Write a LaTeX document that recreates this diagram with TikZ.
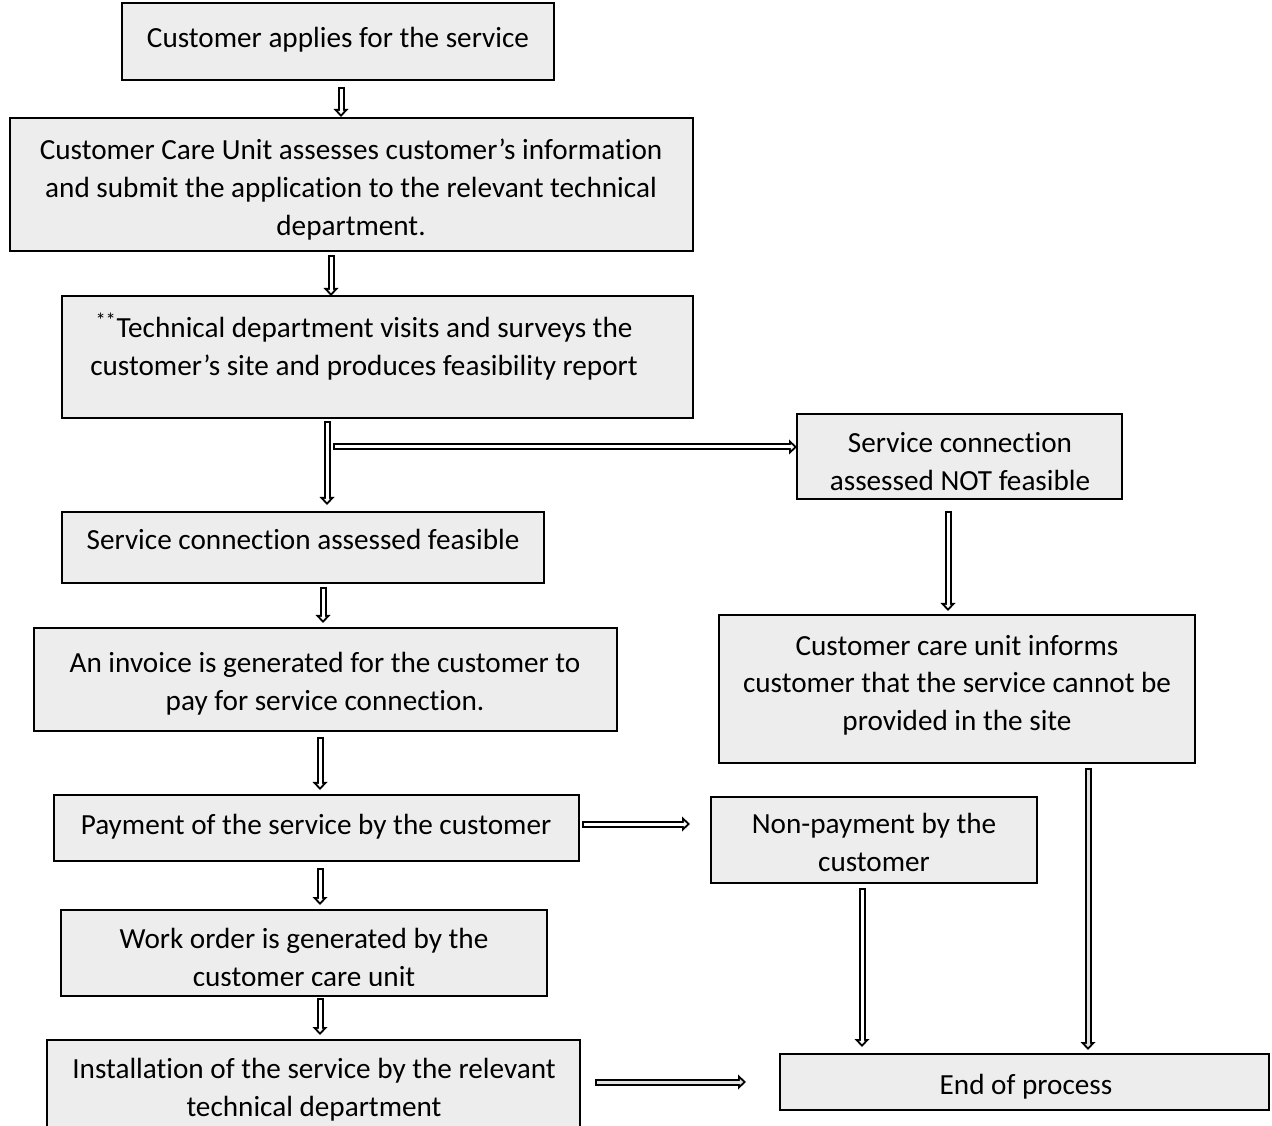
\documentclass[tikz,border=0pt]{standalone}
\usepackage{fontspec}
\setmainfont{Carlito}[Ligatures={NoCommon}]
\usetikzlibrary{calc,arrows.meta}
\definecolor{boxgray}{RGB}{237,237,237}
\definecolor{arrgray}{RGB}{225,225,225}
\tikzset{
  box/.style={draw=black, line width=1.5pt, fill=boxgray, inner sep=0pt, outer sep=0pt, anchor=north west},
  txt/.style={inner sep=0pt, align=center, anchor=base, font=\fontsize{21.9pt}{28.5pt}\selectfont},
  arr/.style={draw=black, line width=5.25pt, -{Triangle[width=11.25pt,length=6pt,line width=0pt]},
    postaction={draw=#1, line width=2.25pt, shorten <=1.5pt, shorten >=2.2pt, -{Triangle[width=4.6pt,length=2.4pt,line width=0pt]}}},
  arr/.default=white
}
\newcommand\bx[5]{\node[box, minimum width={(#4-#2)*0.75pt}, minimum height={(#5-#3)*0.75pt}] (#1) at (#2,#3) {};}
\begin{document}
\begin{tikzpicture}[x=0.75pt,y=-0.75pt]
\path[use as bounding box] (0,0) rectangle (1272,1126);
\clip (0,0) rectangle (1272,1126);
\fill[white] (0,0) rectangle (1272,1126);
% boxes
\bx{b1}{122}{3}{554}{80}
\bx{b2}{10}{118}{693}{251}
\bx{b3}{62}{296}{693}{418}
\bx{b4}{797}{414}{1122}{499}
\bx{b5}{62}{512}{544}{583}
\bx{b6}{34}{628}{617}{731}
\bx{b7}{719}{615}{1195}{763}
\bx{b8}{54}{795}{579}{861}
\bx{b9}{711}{797}{1037}{883}
\bx{b10}{61}{910}{547}{996}
\bx{b11}{47}{1040}{580}{1135}
\bx{b12}{780}{1054}{1269}{1110}
% texts (anchor = baseline of the last line)
\node[txt] (t1) at (338,48) {Customer applies for the service};
\node[txt] (t2) at (351,236) {Customer Care Unit assesses customer’s information\\and submit the application to the relevant technical\\department.};
\node[txt] (t3) at (364,376) {\textsuperscript{**}Technical department visits and surveys the\\customer’s site and produces feasibility report};
\begin{scope}
\clip ($(b4.north west)+(2,77.5)$) rectangle (b4.north east);
\node[txt] (t4) at (960,491) {Service connection\\assessed NOT feasible};
\end{scope}
\node[txt] (t5) at (303,550) {Service connection assessed feasible};
\node[txt] (t6) at (325,711) {An invoice is generated for the customer to\\pay for service connection.};
\node[txt] (t7) at (957,731) {Customer care unit informs\\customer that the service cannot be\\provided in the site};
\node[txt] (t8) at (316,834) {Payment of the service by the customer};
\node[txt] (t9) at (874,871) {Non-payment by the\\customer};
\begin{scope}
\clip ($(b10.north west)+(2,75.5)$) rectangle (b10.north east);
\node[txt] (t10) at (304,986.5) {Work order is generated by the\\customer care unit};
\end{scope}
\node[txt] (t11) at (314,1116) {Installation of the service by the relevant\\technical department};
\node[txt] (t12) at (1026,1094) {End of process};
% arrows
\draw[arr] ($(b1.south west)+(219,7)$) -- ($(b2.north west)+(331,-1)$);
\draw[arr] ($(b2.south west)+(321,4)$) -- ($(b3.north west)+(269,0)$);
\draw[arr] ($(b3.south west)+(265,3)$) -- ($(b5.north west)+(265,-7)$);
\coordinate (split) at ($(b3.south west)+(271,29)$);
\draw[arr] (split) -- ($(b4.north west)+(0,33)$);
\draw[arr] ($(b4.south west)+(151,12)$) -- ($(b7.north west)+(229,-4)$);
\draw[arr] ($(b5.south west)+(261,4)$) -- ($(b6.north west)+(289,-5)$);
\draw[arr] ($(b6.south west)+(286,6)$) -- ($(b8.north west)+(266,-5)$);
\draw[arr] ($(b8.north east)+(3,29)$) -- ($(b9.north west)+(-21,27)$);
\draw[arr] ($(b8.south west)+(266,7)$) -- ($(b10.north west)+(259,-5)$);
\draw[arr] ($(b10.south west)+(259,2)$) -- ($(b11.north west)+(273,-5)$);
\draw[arr=arrgray] ($(b11.north east)+(15,42)$) -- ($(b12.north west)+(-34,28)$);
\draw[arr] ($(b9.south west)+(151,5)$) -- ($(b12.north west)+(82,-7)$);
\draw[arr=arrgray] ($(b7.south west)+(369,5)$) -- ($(b12.north west)+(308,-4)$);
\end{tikzpicture}
\end{document}
